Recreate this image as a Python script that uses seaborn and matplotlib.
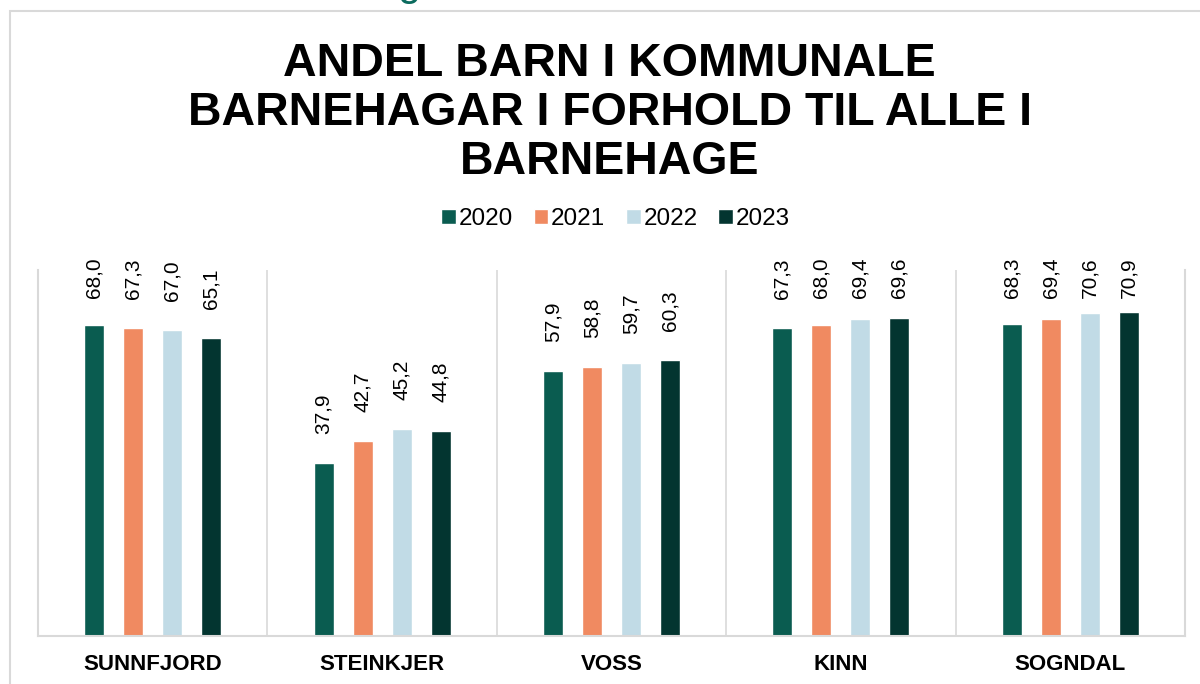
import pandas as pd
import matplotlib.pyplot as plt
import seaborn as sns
from matplotlib.patches import Rectangle

# data
kommunar = ["SUNNFJORD", "STEINKJER", "VOSS", "KINN", "SOGNDAL"]
years = ["2020", "2021", "2022", "2023"]
v2020 = [68.0, 37.9, 57.9, 67.3, 68.3]
v2021 = [67.3, 42.7, 58.8, 68.0, 69.4]
v2022 = [67.0, 45.2, 59.7, 69.4, 70.6]
v2023 = [65.1, 44.8, 60.3, 69.6, 70.9]
colors = ["#0a5c50", "#f08a61", "#c1dbe6", "#033530"]

rows = []
for yr, vals in zip(years, [v2020, v2021, v2022, v2023]):
    for k, v in zip(kommunar, vals):
        rows.append({"kommune": k, "year": yr, "andel": v})
df = pd.DataFrame(rows)

sns.set_style("white")
plt.rcParams["font.family"] = ["Liberation Sans", "DejaVu Sans"]
plt.rcParams["text.color"] = "black"
plt.rcParams["xtick.color"] = "black"

fig = plt.figure(figsize=(12, 6.84), dpi=100)
ax = fig.add_axes([0.0317, 0.0702, 0.9558, 0.5350])

sns.barplot(data=df, x="kommune", y="andel", hue="year", order=kommunar,
            hue_order=years, palette=colors, width=0.68, gap=0.49,
            saturation=1, ax=ax, legend=True)

ax.set_ylim(0, 80)
ax.set_xlim(-0.5, len(kommunar) - 0.5)
ax.set_yticks([])
ax.set_xlabel("")
ax.set_ylabel("")

# group separators
for b in range(1, len(kommunar)):
    ax.axvline(b - 0.5, color="#d9d9d9", lw=1.2, zorder=0)
for side in ["left", "right", "bottom"]:
    ax.spines[side].set_color("#d9d9d9")
    ax.spines[side].set_linewidth(1.5)
ax.spines["top"].set_visible(False)

ax.tick_params(axis="x", length=0, pad=13)
for t in ax.get_xticklabels():
    t.set_fontweight("bold")
    t.set_fontsize(16)
    t.set_color("black")

# value labels (pushed down when they would pass the top)
for cont in ax.containers:
    for bar in cont:
        v = bar.get_height()
        ax.text(bar.get_x() + bar.get_width() / 2, min(v + 6.3, 73.9),
                f"{v:.1f}".replace(".", ","), rotation=90, ha="center",
                va="bottom", fontsize=15, color="black")

handles, labels = ax.get_legend_handles_labels()
ax.legend(handles, labels, ncol=4, loc="center", bbox_to_anchor=(0.513, 0.68),
          bbox_transform=fig.transFigure, frameon=False, fontsize=17.5,
          handlelength=0.6, handleheight=0.6, handletextpad=0.12,
          columnspacing=0.85)

fig.text(0.508, 1 - 113 / 684,
         "ANDEL BARN I KOMMUNALE\nBARNEHAGAR I FORHOLD TIL ALLE I\nBARNEHAGE",
         ha="center", va="center", fontsize=33.5, fontweight="bold",
         linespacing=1.16, color="black")

# outer frame and cropped heading from the slide
fig.patches.append(Rectangle((10 / 1200, -0.2), 1.2, 1.2 - 11 / 684,
                             transform=fig.transFigure, fill=False,
                             edgecolor="#d9d9d9", lw=1.5))
fig.text(0.341, 1 + 5 / 684, "g", ha="center", va="baseline", fontsize=30,
         color="#0b6b5e")

fig.savefig("out.png", dpi=100)
